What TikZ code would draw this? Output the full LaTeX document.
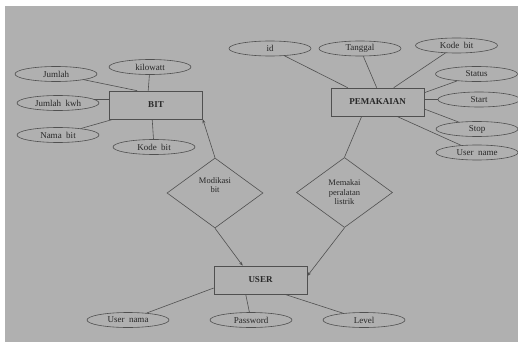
\documentclass[tikz,border=0pt]{standalone}
\usepackage{fontspec}
\setmainfont{Liberation Serif}
\usetikzlibrary{shapes.geometric, arrows.meta, positioning, calc}

\definecolor{bgGrey}{RGB}{176,176,176}
\definecolor{lineGrey}{RGB}{80,80,80}
\definecolor{textGrey}{RGB}{40,40,40}

\begin{document}
\begin{tikzpicture}[
    x=1pt, y=-1pt,
    color=lineGrey, line width=0.6pt,
    entity/.style={draw, rectangle, minimum width=93pt, minimum height=28pt, inner sep=0pt, font=\fontsize{9}{10}\selectfont\bfseries, text=textGrey},
    rel/.style={draw, diamond, minimum width=96pt, minimum height=70pt, inner sep=0pt, align=center, font=\fontsize{8.5}{9.5}\selectfont, text=textGrey},
    attr/.style={draw, ellipse, minimum width=82pt, minimum height=15pt, inner sep=0pt, font=\fontsize{9}{10}\selectfont, text=textGrey},
    arr/.style={-{Stealth[length=4pt, width=3pt]}}
]

% Background
\useasboundingbox (0,0) rectangle (518,342);
\fill[bgGrey] (5,6) rectangle (518,342);

% Nodes
\node[entity] (BIT) at (156,105) {BIT};
\node[entity] (PEMAKAIAN) at (377.5,102) {PEMAKAIAN};
\node[entity] (USER) at (260.5,280) {USER};
\node[rel] (R_BIT_USER) at (215,193) {Modikasi\\bit\\[6pt]};
\node[rel] (R_PEM_USER) at (344.5,192.5) {Memakai\\peralatan\\listrik};

% Attributes BIT
\node[attr] (Jumlah) at (56,74) {Jumlah};
\node[attr] (Kilowatt) at (150,67) {kilowatt};
\node[attr] (JumlahKwh) at (58,103) {Jumlah\ \ kwh};
\node[attr] (NamaBit) at (58,135) {Nama\ \ bit};
\node[attr] (KodeBit) at (154,147) {Kode\ \ bit};
\draw (Jumlah) -- ([xshift=28pt]BIT.north west);
\draw (Kilowatt) -- ([xshift=39pt]BIT.north west);
\draw (JumlahKwh.6) -- (JumlahKwh.6 -| BIT.west);
\draw (NamaBit) -- ([xshift=4pt]BIT.south west);
\draw (KodeBit) -- ([xshift=43pt]BIT.south west);

% Attributes PEMAKAIAN
\node[attr] (Id) at (270,48.5) {id};
\node[attr] (Tanggal) at (360,48.5) {Tanggal};
\node[attr] (KodeBitP) at (456.5,45.5) {Kode\ \ bit};
\node[attr] (Status) at (476.5,74) {Status};
\node[attr] (Start) at (479,99.5) {Start};
\node[attr] (Stop) at (477,129) {Stop};
\node[attr] (UserName) at (477,152.5) {User\ \ name};
\draw (Id) -- ([xshift=17pt]PEMAKAIAN.north west);
\draw (Tanggal) -- ([xshift=46pt]PEMAKAIAN.north west);
\draw (KodeBitP) -- ([xshift=63pt]PEMAKAIAN.north west);
\draw (Status) -- ([yshift=-5pt]PEMAKAIAN.north east);
\draw (Start.west) -- (Start.west -| PEMAKAIAN.east);
\draw (Stop) -- ([yshift=-7pt]PEMAKAIAN.east);
\draw (UserName) -- ([xshift=66pt]PEMAKAIAN.south west);

% Attributes USER
\node[attr] (UserNama) at (128,320) {User\ \ nama};
\node[attr] (Password) at (251,320) {Password};
\node[attr] (Level) at (364,320) {Level};
\draw (UserNama) -- ([yshift=-8pt]USER.west);
\draw (Password) -- ([xshift=32pt]USER.south west);
\draw (Level) -- ([xshift=71pt]USER.south west);

% Relationships Edges
\coordinate (PEM_out) at ([xshift=31pt]PEMAKAIAN.south west);
\draw[arr] (R_BIT_USER.north) -- (BIT.south east);
\draw[arr] (R_BIT_USER.south) -- ([xshift=29pt]USER.north west);
\draw (PEM_out) -- (R_PEM_USER.north);
\draw[arr] (R_PEM_USER.south) -- ([yshift=4pt]USER.east);

\end{tikzpicture}
\end{document}
